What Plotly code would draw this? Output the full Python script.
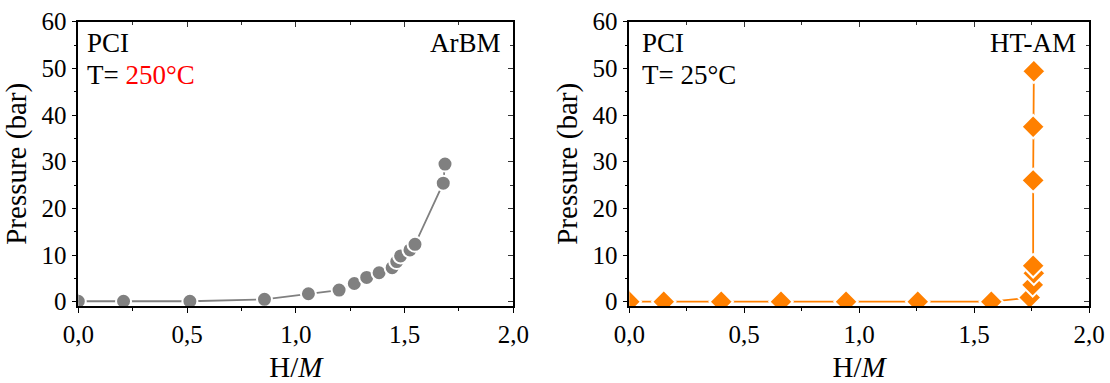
import plotly.graph_objects as go

# Left panel: ArBM, 250 °C
arbm_x = [0.0, 0.208, 0.513, 0.856, 1.058, 1.199, 1.269, 1.326, 1.383, 1.443, 1.464, 1.482, 1.525, 1.548, 1.678, 1.686]
arbm_p = [0.1, 0.1, 0.1, 0.5, 1.7, 2.5, 3.9, 5.2, 6.2, 7.3, 8.6, 9.8, 11.1, 12.3, 25.4, 29.5]

# Right panel: HT-AM, 25 °C
htam_x = [0.0, 0.15, 0.40, 0.66, 0.943, 1.255, 1.575, 1.742, 1.755, 1.76, 1.757, 1.757, 1.757, 1.76]
htam_p = [0.0, 0.0, 0.0, 0.0, 0.0, 0.0, 0.0, 0.9, 3.6, 6.1, 7.7, 26.0, 37.5, 49.4]

x_ticks = [0.0, 0.5, 1.0, 1.5, 2.0]
x_ticklabels = ["0,0", "0,5", "1,0", "1,5", "2,0"]
y_ticks = [0, 10, 20, 30, 40, 50, 60]

FONT = "Liberation Serif"
GRAY = "rgb(128,128,128)"
ORANGE = "rgb(255,128,0)"

fig = go.Figure()

fig.add_trace(go.Scatter(
    x=arbm_x, y=arbm_p, mode="lines+markers", xaxis="x", yaxis="y",
    line=dict(color=GRAY, width=1.8),
    marker=dict(symbol="circle", size=15, color=GRAY, line=dict(color="white", width=2)),
    cliponaxis=True, showlegend=False))

fig.add_trace(go.Scatter(
    x=htam_x, y=htam_p, mode="lines+markers", xaxis="x2", yaxis="y2",
    line=dict(color=ORANGE, width=1.8),
    marker=dict(symbol="diamond", size=18, color=ORANGE, line=dict(color="white", width=2)),
    cliponaxis=True, showlegend=False))

# invisible traces for mirrored (inside-tick) axes
fig.add_trace(go.Scatter(x=[None], y=[None], xaxis="x3", yaxis="y3", showlegend=False, hoverinfo="skip"))
fig.add_trace(go.Scatter(x=[None], y=[None], xaxis="x4", yaxis="y4", showlegend=False, hoverinfo="skip"))

W, H = 1110, 383
left_dom = [78.3 / W, 513.3 / W]
right_dom = [629.3 / W, 1089.0 / W]
y_dom = [1 - 306.0 / H, 1 - 21.7 / H]
XR = [0, 2.0]
YR = [-0.92, 60]

tickfont = dict(family=FONT, size=25, color="black")
titlefont = dict(family=FONT, size=29, color="black")

def xaxis(dom, anchor):
    return dict(domain=dom, anchor=anchor, range=XR, tickvals=x_ticks, ticktext=x_ticklabels,
                ticks="outside", ticklen=5, tickwidth=1.3, tickcolor="black",
                minor=dict(dtick=0.25, ticks="outside", ticklen=3, tickwidth=1.2, tickcolor="black"),
                showline=True, linecolor="black", linewidth=1.5, mirror=True,
                showgrid=False, zeroline=False, tickfont=tickfont, automargin=False,
                title=dict(text="H/<i>M</i>", font=titlefont, standoff=15))

def yaxis(anchor):
    return dict(domain=y_dom, anchor=anchor, range=YR, tickvals=y_ticks,
                ticks="outside", ticklen=5, tickwidth=1.3, tickcolor="black",
                minor=dict(dtick=5, ticks="outside", ticklen=3, tickwidth=1.2, tickcolor="black"),
                showline=True, linecolor="black", linewidth=1.5, mirror=True,
                showgrid=False, zeroline=False, tickfont=tickfont, automargin=False,
                title=dict(text="Pressure (bar)", font=titlefont, standoff=6))

def x_in(over, dom, anchor):
    return dict(overlaying=over, domain=dom, anchor=anchor, side="top", range=XR, tickvals=x_ticks,
                showticklabels=False, ticks="inside", ticklen=5, tickwidth=1.2, tickcolor="#333",
                minor=dict(dtick=0.25, ticks="inside", ticklen=3, tickwidth=1.2, tickcolor="#333"),
                showline=False, showgrid=False, zeroline=False, automargin=False)

def y_in(over, anchor):
    return dict(overlaying=over, domain=y_dom, anchor=anchor, side="right", range=YR, tickvals=y_ticks,
                showticklabels=False, ticks="inside", ticklen=5, tickwidth=1.2, tickcolor="#333",
                minor=dict(dtick=5, ticks="inside", ticklen=3, tickwidth=1.2, tickcolor="#333"),
                showline=False, showgrid=False, zeroline=False, automargin=False)

fig.update_layout(
    width=W, height=H,
    margin=dict(l=0, r=0, t=0, b=0, autoexpand=False),
    paper_bgcolor="white", plot_bgcolor="white",
    xaxis=xaxis(left_dom, "y"), yaxis=yaxis("x"),
    xaxis2=xaxis(right_dom, "y2"), yaxis2=yaxis("x2"),
    xaxis3=x_in("x", left_dom, "y3"), yaxis3=y_in("y", "x3"),
    xaxis4=x_in("x2", right_dom, "y4"), yaxis4=y_in("y2", "x4"),
    font=dict(family=FONT, color="black"),
)

annfont = dict(family=FONT, size=27, color="black")
anns = [
    dict(xref="x domain", yref="y domain", x=0.015, y=0.925, text="PCI", xanchor="left"),
    dict(xref="x domain", yref="y domain", x=0.015, y=0.812, text="T= <span style='color:red'>250°C</span>", xanchor="left"),
    dict(xref="x domain", yref="y domain", x=0.976, y=0.925, text="ArBM", xanchor="right"),
    dict(xref="x2 domain", yref="y2 domain", x=0.023, y=0.925, text="PCI", xanchor="left"),
    dict(xref="x2 domain", yref="y2 domain", x=0.023, y=0.812, text="T= 25°C", xanchor="left"),
    dict(xref="x2 domain", yref="y2 domain", x=0.976, y=0.925, text="HT-AM", xanchor="right"),
]
for a in anns:
    a.update(showarrow=False, yanchor="middle", font=annfont)
    fig.add_annotation(**a)

fig.write_html("out.html")
